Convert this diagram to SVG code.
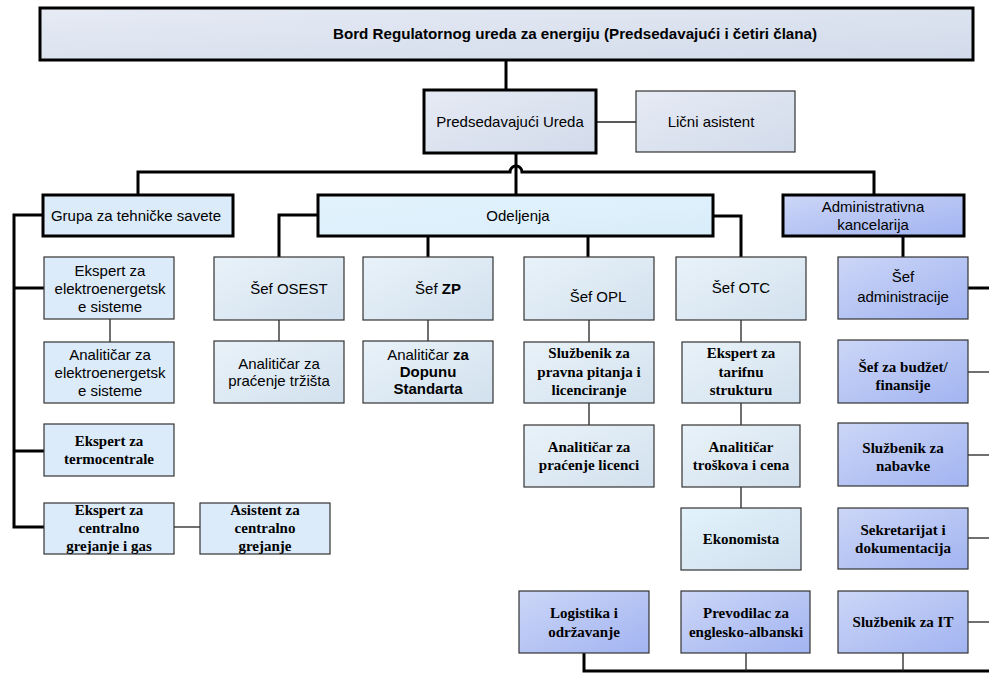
<svg xmlns="http://www.w3.org/2000/svg" width="989" height="673" viewBox="0 0 989 673">
<defs>
<linearGradient id="gTop" x1="0" y1="0" x2="1" y2="1"><stop offset="0" stop-color="#e6ebf4"/><stop offset="1" stop-color="#d2dbeb"/></linearGradient>
<linearGradient id="gLight" x1="0" y1="0" x2="1" y2="1"><stop offset="0" stop-color="#e9f2f9"/><stop offset="1" stop-color="#d2e1ee"/></linearGradient>
<linearGradient id="gCyan" x1="0" y1="0" x2="1" y2="1"><stop offset="0" stop-color="#e3f3fd"/><stop offset="1" stop-color="#d8edf9"/></linearGradient>
<linearGradient id="gEko" x1="0" y1="0" x2="1" y2="1"><stop offset="0" stop-color="#e3f3fc"/><stop offset="1" stop-color="#cfdfed"/></linearGradient>
<linearGradient id="gAdm" x1="0" y1="0" x2="1" y2="1"><stop offset="0" stop-color="#ccd6f7"/><stop offset="1" stop-color="#a2b4f1"/></linearGradient>
</defs>
<style>
.thick{stroke:#000;stroke-width:3;fill:none}
.thin{stroke:#222;stroke-width:1.3;fill:none}
.bb{stroke:#000;stroke-width:3}
.bt{stroke:#333;stroke-width:1.2}
.s{font-family:"Liberation Sans",Arial,sans-serif;font-size:15px;fill:#000;text-anchor:middle}
.f{font-family:"Liberation Serif","Times New Roman",serif;font-size:15px;font-weight:bold;fill:#000;text-anchor:middle}
.sky{fill:#dcebfa}
</style>
<g id="connectors">
<path class="thick" d="M506,60 V90"/>
<path class="thin" d="M596,122 H636"/>
<path class="thick" d="M516,153 V195"/>
<path class="thick" d="M138,195 V172 H510 a6,6 0 0 1 12,0 H874 V195"/>
<path class="thick" d="M43,215 H14 V527 H44"/>
<path class="thick" d="M14,288 H44"/>
<path class="thick" d="M14,451 H44"/>
<path class="thin" d="M110,319 V342"/>
<path class="thin" d="M174,527 H200"/>
<path class="thick" d="M318,215 H279 V257"/>
<path class="thin" d="M279,320 V342"/>
<path class="thick" d="M428,236 V257"/>
<path class="thin" d="M428,320 V342"/>
<path class="thick" d="M588,236 V257"/>
<path class="thin" d="M589,320 V342"/>
<path class="thin" d="M589,403 V425"/>
<path class="thick" d="M713,216 H741 V257"/>
<path class="thin" d="M741,320 V342"/>
<path class="thin" d="M741,403 V425"/>
<path class="thin" d="M741,487 V508"/>
<path class="thick" d="M903,236 V257"/>
<path class="thick" d="M968,288 H989"/>
<path class="thin" d="M968,372 H989"/>
<path class="thin" d="M968,455 H989"/>
<path class="thin" d="M968,538 H989"/>
<path class="thin" d="M968,622 H989"/>
<path class="thick" d="M584,653 V671 H989"/>
<path class="thin" d="M746,653 V671"/>
<path class="thin" d="M903,653 V671"/>
</g>
<g id="board"><rect x="40" y="8" width="933" height="52" fill="url(#gTop)" class="bb"/><text x="575" y="39" class="s" style="font-weight:bold;font-size:14px" textLength="484" lengthAdjust="spacingAndGlyphs">Bord Regulatornog ureda za energiju (Predsedavajući i četiri člana)</text></g>
<g id="predsedavajuci"><rect x="424" y="90" width="172" height="63" fill="url(#gTop)" class="bb"/><text x="510" y="127" class="s">Predsedavajući Ureda</text></g>
<g id="licni"><rect x="636" y="91" width="159" height="61" fill="url(#gTop)" class="bt"/><text x="711" y="127" class="s">Lični asistent</text></g>
<g id="grupa"><rect x="43" y="195" width="190" height="41" class="sky bb"/><text x="136" y="221" class="s">Grupa za tehničke savete</text></g>
<g id="odeljenja"><rect x="318" y="195" width="395" height="41" fill="url(#gCyan)" class="bb"/><text x="518" y="221" class="s">Odeljenja</text></g>
<g id="admin"><rect x="783" y="195" width="181" height="41" fill="url(#gAdm)" class="bb"/><text x="873" y="212" class="s">Administrativna</text><text x="873" y="230" class="s">kancelarija</text></g>
<g id="ekspert-ee"><rect x="44" y="257" width="130" height="62" class="sky bt"/><text x="110" y="276" class="s">Ekspert za</text><text x="110" y="294" class="s">elektroenergetsk</text><text x="110" y="312" class="s">e sisteme</text></g>
<g id="analiticar-ee"><rect x="44" y="342" width="130" height="61" class="sky bt"/><text x="110" y="360" class="s">Analitičar za</text><text x="110" y="378" class="s">elektroenergetsk</text><text x="110" y="396" class="s">e sisteme</text></g>
<g id="ekspert-tc"><rect x="44" y="424" width="130" height="52" class="sky bt"/><text x="109" y="446" class="f">Ekspert za</text><text x="109" y="464" class="f">termocentrale</text></g>
<g id="ekspert-cg"><rect x="44" y="503" width="130" height="51" class="sky bt"/><text x="109" y="515" class="f">Ekspert za</text><text x="109" y="533" class="f">centralno</text><text x="109" y="551" class="f">grejanje i gas</text></g>
<g id="asistent-cg"><rect x="200" y="503" width="130" height="51" class="sky bt"/><text x="265" y="515" class="f">Asistent za</text><text x="265" y="533" class="f">centralno</text><text x="265" y="551" class="f">grejanje</text></g>
<g id="sef-osest"><rect x="214" y="257" width="130" height="63" fill="url(#gLight)" class="bt"/><text x="289" y="294" class="s">Šef OSEST</text></g>
<g id="analiticar-trziste"><rect x="214" y="341" width="130" height="62" fill="url(#gLight)" class="bt"/><text x="279" y="369" class="s">Analitičar za</text><text x="279" y="386" class="s">praćenje tržišta</text></g>
<g id="sef-zp"><rect x="363" y="257" width="130" height="63" fill="url(#gLight)" class="bt"/><text x="438" y="294" class="s">Šef <tspan font-weight="bold">ZP</tspan></text></g>
<g id="analiticar-dopuna"><rect x="363" y="341" width="130" height="62" fill="url(#gLight)" class="bt"/><text x="428" y="360" class="s">Analitičar <tspan font-weight="bold">za</tspan></text><text x="428" y="377" class="s" font-weight="bold">Dopunu</text><text x="428" y="394" class="s" font-weight="bold">Standarta</text></g>
<g id="sef-opl"><rect x="524" y="257" width="130" height="63" fill="url(#gLight)" class="bt"/><text x="598" y="302" class="s">Šef OPL</text></g>
<g id="sluzbenik-pravna"><rect x="524" y="342" width="130" height="61" fill="url(#gLight)" class="bt"/><text x="589" y="358" class="f">Službenik za</text><text x="589" y="377" class="f">pravna pitanja i</text><text x="589" y="395" class="f">licenciranje</text></g>
<g id="analiticar-licenci"><rect x="524" y="425" width="130" height="62" fill="url(#gLight)" class="bt"/><text x="589" y="452" class="f">Analitičar za</text><text x="589" y="470" class="f">praćenje licenci</text></g>
<g id="sef-otc"><rect x="676" y="257" width="130" height="63" fill="url(#gLight)" class="bt"/><text x="741" y="293" class="s">Šef OTC</text></g>
<g id="ekspert-tarifa"><rect x="682" y="342" width="118" height="61" fill="url(#gLight)" class="bt"/><text x="741" y="358" class="f">Ekspert za</text><text x="741" y="377" class="f">tarifnu</text><text x="741" y="395" class="f">strukturu</text></g>
<g id="analiticar-troskova"><rect x="682" y="425" width="118" height="62" fill="url(#gLight)" class="bt"/><text x="741" y="452" class="f">Analitičar</text><text x="741" y="470" class="f">troškova i cena</text></g>
<g id="ekonomista"><rect x="681" y="508" width="120" height="62" fill="url(#gEko)" class="bt"/><text x="741" y="544" class="f">Ekonomista</text></g>
<g id="sef-administracije"><rect x="838" y="257" width="130" height="62" fill="url(#gAdm)" class="bt"/><text x="903" y="282" class="s">Šef</text><text x="903" y="302" class="s">administracije</text></g>
<g id="sef-budzet"><rect x="838" y="340" width="130" height="63" fill="url(#gAdm)" class="bt"/><text x="903" y="372" class="f">Šef za budžet/</text><text x="903" y="390" class="f">finansije</text></g>
<g id="sluzbenik-nabavke"><rect x="838" y="423" width="130" height="63" fill="url(#gAdm)" class="bt"/><text x="903" y="453" class="f">Službenik za</text><text x="903" y="471" class="f">nabavke</text></g>
<g id="sekretarijat"><rect x="838" y="508" width="130" height="61" fill="url(#gAdm)" class="bt"/><text x="903" y="535" class="f">Sekretarijat i</text><text x="903" y="553" class="f">dokumentacija</text></g>
<g id="logistika"><rect x="519" y="591" width="130" height="62" fill="url(#gAdm)" class="bt"/><text x="584" y="618" class="f">Logistika i</text><text x="584" y="637" class="f">održavanje</text></g>
<g id="prevodilac"><rect x="681" y="591" width="129" height="62" fill="url(#gAdm)" class="bt"/><text x="746" y="618" class="f">Prevodilac za</text><text x="746" y="637" class="f">englesko-albanski</text></g>
<g id="sluzbenik-it"><rect x="838" y="591" width="130" height="62" fill="url(#gAdm)" class="bt"/><text x="903" y="627" class="f">Službenik za IT</text></g>
</svg>
